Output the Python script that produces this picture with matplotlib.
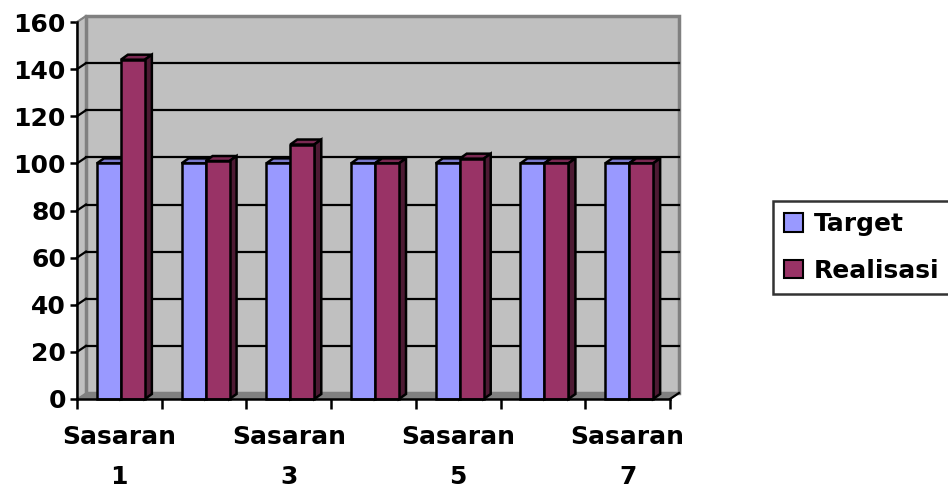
import matplotlib
matplotlib.use("Agg")
import matplotlib.pyplot as plt
from matplotlib.patches import Polygon, Rectangle
import numpy as np

# values per sasaran
categories = ["Sasaran\n1", "Sasaran\n2", "Sasaran\n3", "Sasaran\n4",
              "Sasaran\n5", "Sasaran\n6", "Sasaran\n7"]
target = [100, 100, 100, 100, 100, 100, 100]
realisasi = [144, 101, 108, 100, 102, 100, 100]
series_names = ["Target", "Realisasi"]
y_ticks = [0, 20, 40, 60, 80, 100, 120, 140, 160]

plt.rcParams['font.family'] = ['DejaVu Sans']
plt.rcParams['font.weight'] = 'bold'

fig = plt.figure(figsize=(9.48, 4.93), dpi=100)
W, H = 948, 493
ax = fig.add_axes([77 / W, (H - 399) / H, (670 - 77) / W, (399 - 22) / H])
ax.set_xlim(0, len(categories))
ax.set_ylim(0, 160)
ax.patch.set_visible(False)

# 3d offsets (data units) for wall and bar depth
px_x = len(categories) / (670 - 77)
px_y = 160 / (399 - 22)
wdx, wdy = 9 * px_x, 6 * px_y
bdx, bdy = 7 * px_x, 5 * px_y

n = len(categories)
wall_col = "#c0c0c0"
edge_gray = "#808080"

# floor
ax.add_patch(Polygon([(0, 0), (n, 0), (n + wdx, wdy), (wdx, wdy)], closed=True,
                     facecolor="#808080", edgecolor=edge_gray, lw=1, clip_on=False, zorder=1))
# side wall
ax.add_patch(Polygon([(0, 0), (0, 160), (wdx, 160 + wdy), (wdx, wdy)], closed=True,
                     facecolor=wall_col, edgecolor=edge_gray, lw=1, clip_on=False, zorder=1))
# back wall
ax.add_patch(Rectangle((wdx, wdy), n, 160, facecolor=wall_col, edgecolor=edge_gray,
                       lw=2.5, clip_on=False, zorder=1))

# gridlines on walls
for v in y_ticks[1:-1]:
    ax.plot([wdx, n + wdx], [v + wdy, v + wdy], color="black", lw=1.6, clip_on=False, zorder=2)
    ax.plot([0, wdx], [v, v + wdy], color="black", lw=1.6, clip_on=False, zorder=2)
ax.plot([0, wdx], [160, 160 + wdy], color=edge_gray, lw=1.5, clip_on=False, zorder=2)

faces = {
    "Target": ("#9999ff", "#7a7acc", "#5c5c99"),
    "Realisasi": ("#993366", "#7a2952", "#4d1a33"),
}

w = 0.283
for i in range(n):
    for k, (name, vals) in enumerate(zip(series_names, [target, realisasi])):
        front, top, side = faces[name]
        x0 = i + 0.235 + k * w
        h = vals[i]
        ax.add_patch(Polygon([(x0, h), (x0 + w, h), (x0 + w + bdx, h + bdy), (x0 + bdx, h + bdy)],
                             closed=True, facecolor=top, edgecolor="black", lw=1.8,
                             clip_on=False, zorder=3 + i * 2 + k * 0.5))
        ax.add_patch(Polygon([(x0 + w, 0), (x0 + w + bdx, bdy), (x0 + w + bdx, h + bdy), (x0 + w, h)],
                             closed=True, facecolor=side, edgecolor="black", lw=1.8,
                             clip_on=False, zorder=3 + i * 2 + k * 0.5))
        ax.add_patch(Rectangle((x0, 0), w, h, facecolor=front, edgecolor="black", lw=1.8,
                               clip_on=False, zorder=3.1 + i * 2 + k * 0.5))

# axes lines and ticks
for s in ["top", "right"]:
    ax.spines[s].set_visible(False)
for s in ["left", "bottom"]:
    ax.spines[s].set_linewidth(1.8)
    ax.spines[s].set_zorder(30)
ax.plot([n, n + wdx], [0, wdy], color="black", lw=1.6, clip_on=False, zorder=30)

ax.set_yticks(y_ticks)
ax.set_yticklabels([str(v) for v in y_ticks], fontsize=18, fontweight="bold")
ax.tick_params(axis="y", length=5, width=1.8, pad=3)

ax.set_xticks(np.arange(n + 1))
ax.set_xticklabels([])
ax.tick_params(axis="x", which="major", length=7, width=1.8)
ax.set_xticks(np.arange(0, n, 2) + 0.5, minor=True)
ax.set_xticklabels(categories[::2], minor=True, fontsize=18, fontweight="bold",
                   linespacing=1.8)
ax.tick_params(axis="x", which="minor", length=0, pad=19)

# legend
handles = [Rectangle((0, 0), 1, 1, facecolor=faces[nm][0], edgecolor="black", lw=1.5)
           for nm in series_names]
leg = fig.legend(handles, series_names, loc="upper left",
                 bbox_to_anchor=(773 / W, 1 - 201 / H), frameon=True, fancybox=False,
                 prop={"size": 18, "weight": "bold"}, handlelength=0.75, handleheight=0.75,
                 handletextpad=0.45, borderpad=0.45, labelspacing=0.9, borderaxespad=0)
leg.get_frame().set_edgecolor("black")
leg.get_frame().set_linewidth(1.8)

fig.savefig("out.png", dpi=100)
